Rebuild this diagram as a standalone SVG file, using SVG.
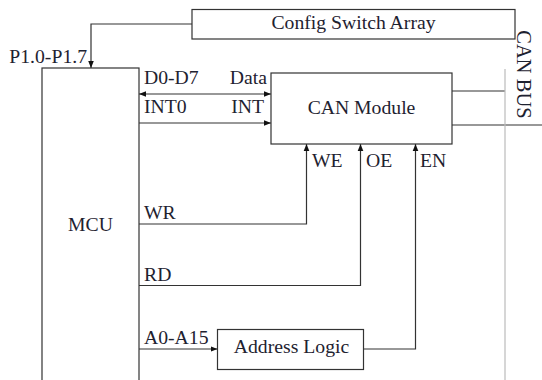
<svg xmlns="http://www.w3.org/2000/svg" width="542" height="380" viewBox="0 0 542 380">
<style>
.box{fill:#fff;stroke:#333;stroke-width:1.2}
.ln{fill:none;stroke:#333;stroke-width:1.2}
.bus{fill:none;stroke:#bbb;stroke-width:1.2}
text{font-family:"Liberation Serif","Times New Roman",serif;font-size:19.7px;fill:#1e2230}
.c{text-anchor:middle}
</style>
<defs>
<marker id="ah" viewBox="0 0 10 10" refX="10" refY="5" markerWidth="7" markerHeight="7" markerUnits="userSpaceOnUse" orient="auto-start-reverse">
<path d="M0,1 L10,5 L0,9 Z" fill="#111"/>
</marker>
</defs>
<rect width="542" height="380" fill="#fff"/>
<g id="connectors">
<path class="ln" d="M192,24 H91 V68" marker-end="url(#ah)"/>
<path class="ln" d="M139,94 H271" marker-start="url(#ah)" marker-end="url(#ah)"/>
<path class="ln" d="M139,123 H271" marker-end="url(#ah)"/>
<path class="ln" d="M139,224 H306.5 V144" marker-end="url(#ah)"/>
<path class="ln" d="M139,285.5 H360.5 V144" marker-end="url(#ah)"/>
<path class="ln" d="M139,349 H217.5" marker-end="url(#ah)"/>
<path class="ln" d="M363,349 H415.5 V144" marker-end="url(#ah)"/>
<path class="ln" d="M452,91 H505"/>
<path class="ln" d="M452,125 H542"/>
</g>
<g id="canbus">
<path class="bus" d="M505,69 V380"/>
<text class="c" style="font-size:20.5px" transform="translate(517,74.5) rotate(90)">CAN BUS</text>
</g>
<g id="config">
<rect class="box" x="192" y="9.5" width="323" height="29.5"/>
<text class="c" x="353.5" y="29">Config Switch Array</text>
</g>
<g id="mcu">
<rect class="box" x="42" y="68" width="97" height="320"/>
<text class="c" x="90.5" y="231">MCU</text>
</g>
<g id="can">
<rect class="box" x="271" y="73" width="181" height="71"/>
<text class="c" x="361.5" y="114">CAN Module</text>
</g>
<g id="addr">
<rect class="box" x="217.5" y="329.5" width="146" height="40"/>
<text class="c" x="291.5" y="353">Address Logic</text>
</g>
<g id="labels">
<text x="87" y="63" text-anchor="end">P1.0-P1.7</text>
<text x="144" y="84">D0-D7</text>
<text x="267" y="84" text-anchor="end">Data</text>
<text x="144" y="113">INT0</text>
<text x="264" y="113" text-anchor="end">INT</text>
<text x="312" y="167">WE</text>
<text x="366" y="167">OE</text>
<text x="420" y="167">EN</text>
<text x="144" y="219">WR</text>
<text x="144" y="281">RD</text>
<text x="144" y="344">A0-A15</text>
</g>
</svg>
